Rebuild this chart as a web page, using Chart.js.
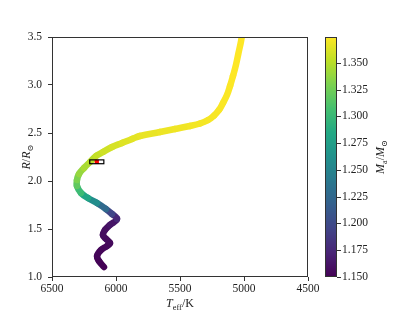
<!DOCTYPE html>
<html>
<head>
<meta charset="utf-8">
<script src="https://cdn.jsdelivr.net/npm/chart.js@4.4.0/dist/chart.umd.min.js"></script>
<style>
  body { margin: 0; background: #fff; }
  canvas { display: block; }
</style>
</head>
<body>
<canvas id="myChart" width="415" height="312"></canvas>
<script>
// evolutionary track
const teff = [6094, 6133, 6148, 6117, 6070, 6047, 6078, 6102, 6086, 6047,
  5992, 6031, 6078, 6148, 6219, 6273, 6305, 6305, 6289, 6250,
  6203, 6156, 6102, 6031, 5953, 5875, 5813, 5656, 5539, 5422,
  5344, 5281, 5234, 5195, 5164, 5133, 5109, 5086, 5063, 5043,
  5023, 5008];
const radius = [1.104, 1.167, 1.219, 1.281, 1.323, 1.354, 1.396, 1.438, 1.490, 1.542,
  1.604, 1.656, 1.708, 1.771, 1.823, 1.875, 1.948, 2.010, 2.073, 2.135,
  2.198, 2.260, 2.302, 2.354, 2.396, 2.438, 2.469, 2.510, 2.542, 2.573,
  2.599, 2.635, 2.682, 2.740, 2.813, 2.896, 2.990, 3.094, 3.208, 3.333,
  3.458, 3.583];
const mass = [1.150, 1.151, 1.152, 1.153, 1.154, 1.155, 1.156, 1.157, 1.158, 1.160,
  1.166, 1.185, 1.210, 1.245, 1.272, 1.293, 1.312, 1.325, 1.335, 1.342,
  1.348, 1.352, 1.356, 1.359, 1.362, 1.364, 1.366, 1.368, 1.369, 1.370,
  1.371, 1.371, 1.372, 1.372, 1.373, 1.373, 1.373, 1.374, 1.374, 1.374,
  1.374, 1.374];

// observed star with its error box
const obsTeff = [6150];
const obsRadius = [2.2];
const obsTeffErr = [55];
const obsRadiusErr = [0.02];

const teffTicks = [6500, 6000, 5500, 5000, 4500];
const radiusTicks = [1.0, 1.5, 2.0, 2.5, 3.0, 3.5];
const massTicks = [1.150, 1.175, 1.200, 1.225, 1.250, 1.275, 1.300, 1.325, 1.350];

const massMin = Math.min(...mass);
const massMax = Math.max(...mass);

const FONT = '"Liberation Serif", "DejaVu Serif", serif';
const TICK_SIZE = 11.5;
const TEXT = '#222';

// viridis
const viridis = [
  [68, 1, 84], [72, 36, 117], [65, 68, 135], [53, 95, 141], [42, 120, 142],
  [33, 145, 140], [34, 168, 132], [68, 191, 112], [122, 209, 81], [189, 223, 38], [253, 231, 37]
];
function cmap(t) {
  t = Math.max(0, Math.min(1, t));
  const f = t * (viridis.length - 1);
  const i = Math.min(Math.floor(f), viridis.length - 2);
  const u = f - i;
  const a = viridis[i], b = viridis[i + 1];
  return `rgb(${Math.round(a[0] + (b[0] - a[0]) * u)},${Math.round(a[1] + (b[1] - a[1]) * u)},${Math.round(a[2] + (b[2] - a[2]) * u)})`;
}
const massColor = m => cmap((m - massMin) / (massMax - massMin));

// text with italics / subscripts, like mathtext
function drawMath(c, parts, x, y, rot) {
  const size = 12;
  const fontOf = p => (p.it ? 'italic ' : '') + (p.sub ? size * 0.7 : size) + 'px ' + FONT;
  c.save();
  c.translate(x, y);
  c.rotate(rot);
  c.fillStyle = TEXT;
  c.textBaseline = 'alphabetic';
  c.textAlign = 'left';
  let w = 0;
  parts.forEach(p => { c.font = fontOf(p); w += c.measureText(p.t).width; });
  let cx = -w / 2;
  parts.forEach(p => {
    c.font = fontOf(p);
    c.fillText(p.t, cx, p.sub ? 2.5 : 0);
    cx += c.measureText(p.t).width;
  });
  c.restore();
}

const extras = {
  id: 'extras',
  afterDatasetsDraw(chart) {
    const c = chart.ctx;
    const xs = chart.scales.x, ys = chart.scales.y;
    // error box round the observed star
    c.save();
    c.strokeStyle = '#000';
    c.lineWidth = 1.2;
    for (let i = 0; i < obsTeff.length; i++) {
      const x1 = xs.getPixelForValue(obsTeff[i] + obsTeffErr[i]);
      const x2 = xs.getPixelForValue(obsTeff[i] - obsTeffErr[i]);
      const y1 = ys.getPixelForValue(obsRadius[i] + obsRadiusErr[i]);
      const y2 = ys.getPixelForValue(obsRadius[i] - obsRadiusErr[i]);
      c.strokeRect(x1, y1, x2 - x1, y2 - y1);
    }
    c.restore();
  },
  afterDraw(chart) {
    const c = chart.ctx;
    const a = chart.chartArea;
    const cb = chart.scales.cb;
    c.save();
    // frame
    c.strokeStyle = '#333';
    c.lineWidth = 1;
    c.strokeRect(Math.round(a.left) + 0.5, Math.round(a.top) + 0.5,
      Math.round(a.right - a.left) - 1, Math.round(a.bottom - a.top) - 1);

    // colorbar
    const bx = Math.round(a.right) + 17, bw = 12;
    const top = Math.round(a.top), bottom = Math.round(a.bottom);
    for (let py = top; py < bottom; py++) {
      c.fillStyle = massColor(cb.getValueForPixel(py + 0.5));
      c.fillRect(bx, py, bw, 1);
    }
    c.strokeRect(bx + 0.5, top + 0.5, bw - 1, bottom - top - 1);
    massTicks.forEach(v => {
      const py = Math.round(cb.getPixelForValue(v)) + 0.5;
      c.beginPath();
      c.moveTo(bx + bw, py);
      c.lineTo(bx + bw + 4, py);
      c.stroke();
    });
    c.restore();

    // axis titles
    drawMath(c, [{t: 'T', it: true}, {t: 'eff', sub: true}, {t: '/K'}], (a.left + a.right) / 2, 307, 0);
    drawMath(c, [{t: 'R', it: true}, {t: '/'}, {t: 'R', it: true}, {t: '\u2299', sub: true}], 30, (a.top + a.bottom) / 2, -Math.PI / 2);
    drawMath(c, [{t: 'M', it: true}, {t: 'a', sub: true}, {t: '/'}, {t: 'M', it: true}, {t: '\u2299', sub: true}], bx + 59, (a.top + a.bottom) / 2, -Math.PI / 2);
  }
};

const tickFont = { family: FONT, size: TICK_SIZE };
const setTicks = arr => scale => { scale.ticks = arr.map(v => ({ value: v })); };
const noPad = s => { s.paddingTop = 0; s.paddingBottom = 0; s.paddingLeft = 0; s.paddingRight = 0; };

const ctx = document.getElementById('myChart');

new Chart(ctx, {
  type: 'scatter',
  data: {
    datasets: [
      {
        label: 'observed',
        data: obsTeff.map((t, i) => ({ x: t, y: obsRadius[i] })),
        pointStyle: 'rect',
        pointRadius: 3,
        backgroundColor: '#ff0000',
        borderWidth: 0,
      },
      {
        label: 'track',
        data: teff.map((t, i) => ({ x: t, y: radius[i] })),
        showLine: true,
        pointRadius: 0,
        borderWidth: 6.5,
        borderCapStyle: 'round',
        borderJoinStyle: 'round',
        tension: 0.4,
        segment: {
          borderColor: s => massColor((mass[s.p0DataIndex] + mass[s.p1DataIndex]) / 2),
        },
      },
    ],
  },
  options: {
    responsive: false,
    animation: false,
    devicePixelRatio: 1,
    layout: { padding: { top: 37, left: 0, right: 0, bottom: 0 } },
    plugins: { legend: { display: false }, tooltip: { enabled: false } },
    scales: {
      x: {
        type: 'linear',
        min: 4500,
        max: 6500,
        reverse: true,
        afterBuildTicks: setTicks(teffTicks),
        afterFit: s => { s.height = 35; noPad(s); },
        ticks: { font: tickFont, color: TEXT, padding: 1, autoSkip: false, maxRotation: 0,
          callback: v => String(v) },
        grid: { drawOnChartArea: false, tickLength: 4, tickColor: '#333', tickWidth: 1 },
        border: { display: false },
      },
      y: {
        type: 'linear',
        min: 1.0,
        max: 3.5,
        afterBuildTicks: setTicks(radiusTicks),
        afterFit: s => { s.width = 52; noPad(s); },
        ticks: { font: tickFont, color: TEXT, padding: 6, autoSkip: false,
          callback: v => v.toFixed(1) },
        grid: { drawOnChartArea: false, tickLength: 4, tickColor: '#333', tickWidth: 1 },
        border: { display: false },
      },
      cb: {
        type: 'linear',
        position: 'right',
        min: massMin,
        max: massMax,
        afterBuildTicks: setTicks(massTicks),
        afterFit: s => { s.width = 415 - 308; noPad(s); },
        ticks: { font: tickFont, color: TEXT, padding: 34, autoSkip: false,
          callback: v => v.toFixed(3) },
        grid: { display: false, drawTicks: false },
        border: { display: false },
      },
    },
  },
  plugins: [extras],
});
</script>
</body>
</html>
